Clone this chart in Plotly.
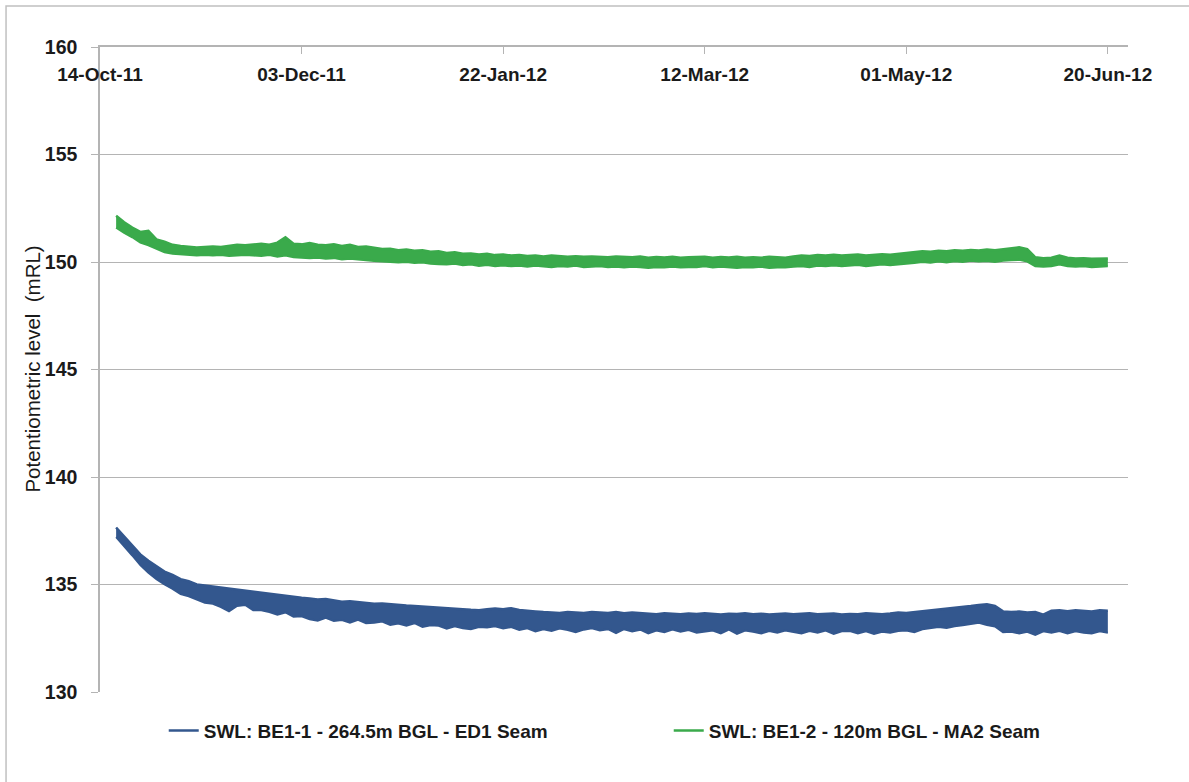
import pandas as pd
import plotly.graph_objects as go

# Logger readings summarised every 2 days: daily high / low of standing water level (mRL)
dates = pd.date_range("2011-10-18", "2012-06-20", freq="2D")

ed1_high = [
    137.65, 137.25, 136.85, 136.4, 136.1, 135.85, 135.6, 135.45, 135.25, 135.15, 135.0, 134.95,
    134.9, 134.85, 134.8, 134.75, 134.7, 134.68, 134.6, 134.55, 134.5, 134.45, 134.42, 134.38,
    134.35, 134.3, 134.32, 134.25, 134.2, 134.22, 134.18, 134.15, 134.1, 134.12, 134.08, 134.05,
    134.02, 134.0, 133.98, 133.95, 133.92, 133.9, 133.88, 133.85, 133.82, 133.8, 133.85, 133.88,
    133.85, 133.9, 133.82, 133.8, 133.75, 133.72, 133.7, 133.68, 133.72, 133.7, 133.68, 133.72,
    133.7, 133.68, 133.72, 133.66, 133.7, 133.68, 133.65, 133.62, 133.66, 133.64, 133.62, 133.65,
    133.63, 133.66, 133.62, 133.6, 133.64, 133.63, 133.66, 133.62, 133.64, 133.6, 133.63, 133.65,
    133.62, 133.64, 133.66, 133.62, 133.63, 133.65, 133.6, 133.63, 133.62, 133.66, 133.64, 133.62,
    133.65, 133.7, 133.68, 133.72, 133.75, 133.78, 133.82, 133.85, 133.9, 133.95, 134.0, 134.05,
    134.08, 134.0, 133.75, 133.72, 133.74, 133.7, 133.72, 133.6, 133.78, 133.8, 133.76, 133.8,
    133.78, 133.75, 133.8, 133.78,
]
ed1_low = [
    137.2, 136.8, 136.35, 135.9, 135.55, 135.25, 135.0, 134.8, 134.55, 134.45, 134.3, 134.15,
    134.1, 133.95, 133.75, 134.0, 134.05, 133.8, 133.8, 133.72, 133.6, 133.7, 133.5, 133.52,
    133.38, 133.32, 133.45, 133.3, 133.35, 133.22, 133.36, 133.2, 133.22, 133.28, 133.12, 133.18,
    133.08, 133.2, 133.02, 133.1, 133.08, 132.95, 133.06, 132.96, 132.92, 133.02, 133.0, 133.06,
    132.95, 133.02, 132.88, 132.96, 132.82, 132.92, 132.84, 132.95, 132.88, 132.78, 132.9, 132.96,
    132.86, 132.92, 132.74, 132.92, 132.82, 132.9, 132.72, 132.86, 132.78, 132.9, 132.8, 132.88,
    132.76, 132.8, 132.86, 132.72, 132.9, 132.7, 132.86, 132.8, 132.72, 132.84, 132.76, 132.86,
    132.78, 132.72, 132.84, 132.76, 132.86, 132.7, 132.82, 132.84, 132.72, 132.82, 132.7, 132.8,
    132.76, 132.84, 132.86, 132.78, 132.92, 132.96, 133.02, 132.98, 133.06, 133.1, 133.16, 133.22,
    133.12, 133.05, 132.78, 132.8, 132.72, 132.8, 132.66, 132.82, 132.76, 132.84, 132.72, 132.82,
    132.76, 132.72, 132.82, 132.76,
]
ma2_high = [
    152.15, 151.85, 151.6, 151.4, 151.45, 151.05, 150.95, 150.8, 150.75, 150.72, 150.68, 150.7,
    150.72, 150.7, 150.75, 150.8, 150.78, 150.82, 150.85, 150.8, 150.9, 151.15, 150.85, 150.82,
    150.88, 150.8, 150.78, 150.82, 150.75, 150.8, 150.7, 150.72, 150.65, 150.6, 150.62, 150.55,
    150.58, 150.52, 150.55, 150.48, 150.5, 150.42, 150.45, 150.38, 150.4, 150.35, 150.38, 150.32,
    150.35, 150.3, 150.32, 150.28, 150.3, 150.26, 150.3, 150.28, 150.25, 150.27, 150.24, 150.26,
    150.25, 150.22, 150.26, 150.24, 150.22, 150.25, 150.2, 150.23, 150.21, 150.24, 150.2, 150.22,
    150.22, 150.24, 150.2, 150.23, 150.21, 150.24, 150.2, 150.22, 150.2, 150.24, 150.22, 150.2,
    150.26, 150.3, 150.28, 150.32, 150.3, 150.34, 150.3, 150.32, 150.35, 150.3, 150.33, 150.36,
    150.34, 150.38, 150.42, 150.45, 150.5, 150.48, 150.52, 150.5, 150.55, 150.52, 150.56, 150.54,
    150.58, 150.55, 150.6, 150.62, 150.68, 150.6, 150.22, 150.18, 150.2, 150.3, 150.2, 150.16,
    150.18, 150.15, 150.17, 150.16,
]
ma2_low = [
    151.6, 151.35, 151.15, 150.9, 150.78, 150.6, 150.45, 150.38, 150.35, 150.32, 150.3, 150.32,
    150.3, 150.32, 150.28, 150.3, 150.33, 150.3, 150.28, 150.32, 150.25, 150.3, 150.22, 150.2,
    150.18, 150.2, 150.15, 150.18, 150.12, 150.15, 150.1, 150.08, 150.05, 150.02, 150.0, 149.98,
    150.0, 149.95, 149.98, 149.92, 149.9, 149.88, 149.92, 149.85, 149.88, 149.82, 149.86, 149.8,
    149.84, 149.8, 149.82, 149.78, 149.82, 149.8, 149.76, 149.8, 149.78, 149.82, 149.76, 149.78,
    149.8, 149.76, 149.78, 149.74, 149.78, 149.76, 149.72, 149.76, 149.74, 149.78, 149.74, 149.76,
    149.76, 149.8, 149.74, 149.78, 149.76, 149.72, 149.76, 149.74, 149.78, 149.72, 149.75, 149.74,
    149.78, 149.8, 149.76, 149.82, 149.8, 149.84, 149.8, 149.82, 149.86, 149.8, 149.84, 149.88,
    149.85, 149.9, 149.92, 149.95, 150.0, 149.96, 150.02, 149.98, 150.04, 150.0, 150.06, 150.02,
    150.05, 150.0, 150.06, 150.08, 150.1, 150.02, 149.8, 149.78, 149.8, 149.88, 149.8, 149.78,
    149.8, 149.76, 149.78, 149.8,
]

series = [
    ("SWL: BE1-1 - 264.5m BGL - ED1 Seam", ed1_high, ed1_low, "#33578E"),
    ("SWL: BE1-2 - 120m BGL - MA2 Seam", ma2_high, ma2_low, "#3AAA4B"),
]

SANS = "Liberation Sans, Arial, sans-serif"
GRID = "#B4B4B4"
INK = "#1A1A1A"

fig = go.Figure()
for name, hi, lo, color in series:
    fig.add_trace(go.Scatter(
        x=dates, y=hi, name=name, legendgroup=name, mode="lines",
        line=dict(color=color, width=2.5),
    ))
    fig.add_trace(go.Scatter(
        x=dates, y=lo, name=name, legendgroup=name, showlegend=False, mode="lines",
        line=dict(color=color, width=2), fill="tonexty", fillcolor=color,
    ))

fig.update_layout(
    width=1189, height=782, autosize=False,
    margin=dict(l=100, r=61, t=47, b=90),
    paper_bgcolor="white", plot_bgcolor="white",
    font=dict(family=SANS, size=19, color=INK, weight="bold"),
    showlegend=True,
    legend=dict(
        orientation="h", x=0.062, xanchor="left", y=-0.06, yanchor="middle",
        font=dict(family=SANS, size=19, color=INK, weight="bold"),
        entrywidth=460, entrywidthmode="pixels",
        itemwidth=30, traceorder="normal",
    ),
    shapes=[dict(
        type="rect", xref="paper", yref="paper",
        x0=-0.0914, x1=1.2, y0=-0.3, y1=1.0636,
        line=dict(color="#C0C0C0", width=1.5), fillcolor="rgba(0,0,0,0)", layer="below",
    )],
    annotations=[dict(
        text="Potentiometric level\u00a0 (mRL)", textangle=-90,
        xref="paper", yref="paper", x=-0.0661, y=0.5,
        xanchor="center", yanchor="middle", showarrow=False,
        font=dict(family=SANS, size=20.5, color=INK, weight="normal"),
    )],
)

fig.update_xaxes(
    type="date", side="top",
    range=["2011-10-14", "2012-06-25"],
    tick0="2011-10-14", dtick=50 * 86400000, tickformat="%d-%b-%y",
    ticks="inside", ticklen=7, tickcolor=GRID, tickwidth=1,
    ticklabelposition="inside", ticklabeloverflow="allow", ticklabelstandoff=15,
    showline=True, linecolor=GRID, linewidth=1.5,
    showgrid=False, zeroline=False,
    tickfont=dict(family=SANS, size=19, color=INK, weight="bold"),
)
fig.update_yaxes(
    range=[130, 160], dtick=5, tick0=130,
    ticks="outside", ticklen=7, tickcolor=GRID, tickwidth=1,
    ticklabelstandoff=10,
    showline=True, linecolor=GRID, linewidth=1.5,
    showgrid=True, gridcolor=GRID, gridwidth=1.2, zeroline=False,
    tickfont=dict(family=SANS, size=19.5, color=INK, weight="bold"),
)

fig.write_html("out.html")
